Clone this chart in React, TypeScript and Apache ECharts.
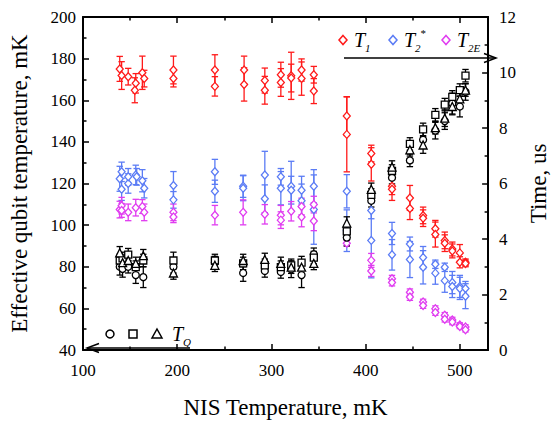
import React, { useEffect, useRef } from "react";
import * as echarts from "echarts";

const FONT = "Liberation Serif";

// T1 (right axis, μs)
const t1Temp = [139, 141, 148, 156, 155, 163, 165, 196, 196, 240, 240, 271, 271, 293, 293, 310, 310, 321, 321, 332, 332, 345, 345, 380, 380, 406, 406, 428, 428, 447, 447, 461, 461, 474, 474, 484, 484, 492, 492, 500, 500, 506, 506];
const t1Time = [10.13, 9.89, 9.85, 9.61, 9.36, 9.99, 9.78, 10.09, 9.78, 10.09, 9.5, 10.09, 9.57, 9.71, 9.36, 9.92, 9.64, 9.88, 9.8, 10.09, 9.78, 9.92, 9.33, 8.43, 7.77, 7.08, 6.69, 5.9, 5.79, 5.48, 5.1, 4.85, 4.75, 4.37, 4.16, 3.95, 3.85, 3.64, 3.57, 3.5, 3.16, 3.16, 3.12];
const t1Err = [0.45, 0.5, 0.3, 0.35, 0.45, 0.6, 0.3, 0.5, 0.3, 0.55, 0.35, 0.5, 0.6, 0.45, 0.5, 0.45, 0.5, 0.85, 0.5, 0.4, 0.6, 0.3, 0.45, 0.7, 1.35, 0.3, 0.6, 0.3, 0.4, 0.45, 0.4, 0.3, 0.3, 0.3, 0.45, 0.3, 0.3, 0.25, 0.25, 0.3, 0.2, 0.12, 0.12];

// T2* (right axis, μs)
const t2sTemp = [139, 141, 141, 148, 148, 156, 157, 163, 165, 196, 196, 240, 240, 270, 270, 293, 293, 310, 310, 321, 321, 332, 332, 345, 345, 380, 380, 406, 406, 428, 428, 447, 447, 461, 461, 474, 474, 484, 484, 492, 492, 500, 500, 506, 506];
const t2sTime = [6.17, 6.42, 5.79, 6.0, 6.24, 6.31, 6.24, 6.1, 5.83, 5.93, 5.41, 6.42, 5.72, 5.9, 5.83, 6.31, 5.45, 6.24, 5.83, 5.9, 5.76, 5.76, 5.38, 5.9, 5.06, 5.72, 4.3, 5.03, 3.95, 4.2, 3.43, 3.82, 3.26, 3.33, 2.98, 3.09, 2.77, 2.98, 2.5, 2.43, 2.29, 2.29, 2.22, 2.22, 1.94];
const t2sErr = [0.45, 0.35, 0.4, 0.35, 0.3, 0.35, 0.3, 0.4, 0.35, 0.5, 0.3, 0.45, 0.4, 0.4, 0.45, 0.85, 0.5, 0.3, 0.6, 0.9, 0.5, 0.5, 0.6, 0.6, 1.25, 0.6, 0.75, 0.3, 1.35, 0.4, 0.55, 0.25, 0.65, 0.4, 0.6, 0.15, 0.4, 0.15, 0.42, 0.4, 0.4, 0.4, 0.4, 0.25, 0.45];

// T2E (right axis, μs)
const t2eTemp = [139, 141, 141, 148, 156, 163, 165, 196, 196, 240, 270, 293, 310, 310, 321, 332, 332, 345, 345, 380, 406, 406, 428, 428, 447, 447, 461, 461, 474, 474, 484, 484, 492, 492, 500, 500, 506, 506];
const t2eTime = [5.06, 5.2, 5.03, 4.96, 5.13, 5.17, 4.96, 4.96, 4.79, 4.86, 4.96, 4.89, 4.86, 4.68, 5.0, 5.17, 4.79, 5.24, 4.65, 3.85, 3.23, 2.85, 2.57, 2.43, 2.08, 1.91, 1.73, 1.6, 1.49, 1.35, 1.25, 1.11, 1.08, 1.01, 0.9, 0.85, 0.83, 0.73];
const t2eErr = [0.3, 0.3, 0.25, 0.3, 0.3, 0.25, 0.3, 0.3, 0.2, 0.35, 0.45, 0.35, 0.35, 0.3, 0.35, 0.3, 0.35, 0.3, 0.35, 0.1, 0.25, 0.2, 0.12, 0.12, 0.12, 0.12, 0.1, 0.1, 0.1, 0.1, 0.1, 0.1, 0.1, 0.1, 0.08, 0.08, 0.08, 0.08];

// T_Q (left axis, mK)
const qTemp = [139, 142, 148, 156, 164, 196, 240, 270, 293, 310, 321, 332, 345, 380, 406, 428, 447, 461, 474, 484, 492, 500, 506];
const qCircle = [80, 79, 80, 76, 75, 80, 82, 77, 78, 77.5, 78.8, 76, 86, 94, 111.7, 122.8, 131.1, 141, 145.4, 150, 158.4, 157, 164];
const qCircleErr = [4, 4, 3, 4, 5, 3, 3, 4, 3, 3, 4, 6, 3, 4, 3, 3, 3, 4, 4, 4, 5, 5, 4];
const qSquare = [83, 84, 85.8, 79.8, 83, 83, 83, 81.6, 80.7, 79.8, 80.7, 82, 84.4, 97, 114.5, 126, 139, 146, 153, 157.9, 161.6, 164.9, 171.8];
const qSquareErr = [3, 3, 3, 3, 3, 4, 3, 3, 3, 3, 3, 3, 3, 3, 3, 3, 3, 3, 3, 3, 3, 3, 3];
const qTriangle = [86.7, 82, 83, 81.6, 85.3, 77, 80.7, 83, 83.5, 81.6, 79.8, 79.8, 81.6, 101, 117.2, 127.9, 136.2, 138.5, 146.8, 151.4, 157, 160.7, 164.9];
const qTriangleErr = [3, 3, 3, 3, 3, 3, 3, 3, 3, 3, 3, 3, 3, 3, 3, 3, 3, 4, 3, 4, 4, 4, 3];

const RED = "#ff1a1a";
const BLUE = "#5b7cf5";
const MAGENTA = "#e03cf0";
const BLACK = "#000000";

function zip(xs: number[], ys: number[], es: number[]) {
  return xs.map((x, i) => [x, ys[i], es[i]]);
}

function errorSeries(data: number[][], color: string, yAxisIndex: number) {
  return {
    type: "custom",
    xAxisIndex: 0,
    yAxisIndex,
    data,
    encode: { x: 0, y: 1 },
    silent: true,
    z: 2,
    renderItem: (params: any, api: any) => {
      const x = api.value(0);
      const y = api.value(1);
      const e = api.value(2);
      const hi = api.coord([x, y + e]);
      const lo = api.coord([x, y - e]);
      const w = 3.2;
      const st = { stroke: color, lineWidth: 1.3 };
      return {
        type: "group",
        children: [
          { type: "line", shape: { x1: hi[0], y1: hi[1], x2: lo[0], y2: lo[1] }, style: st },
          { type: "line", shape: { x1: hi[0] - w, y1: hi[1], x2: hi[0] + w, y2: hi[1] }, style: st },
          { type: "line", shape: { x1: lo[0] - w, y1: lo[1], x2: lo[0] + w, y2: lo[1] }, style: st },
        ],
      };
    },
  };
}

function markerSeries(name: string, data: number[][], symbol: string, color: string, size: number | number[], yAxisIndex: number) {
  return {
    name,
    type: "scatter",
    xAxisIndex: 0,
    yAxisIndex,
    data: data.map((d) => [d[0], d[1]]),
    symbol,
    symbolSize: size,
    z: 3,
    itemStyle: { color: "#ffffff", borderColor: color, borderWidth: 1.3, opacity: 1 },
  };
}

function axisCommon() {
  return {
    axisLine: { show: true, onZero: false, lineStyle: { color: BLACK, width: 2 } },
    axisTick: { show: true, inside: true, length: 6, lineStyle: { color: BLACK, width: 1.5 } },
    minorTick: { show: true, splitNumber: 2, length: 3.5, lineStyle: { color: BLACK, width: 1.5 } },
    splitLine: { show: false },
    minorSplitLine: { show: false },
  };
}

const subRich = (size: number) => ({
  t: { fontFamily: FONT, fontStyle: "italic", fontSize: size, lineHeight: 26, fill: BLACK, verticalAlign: "middle" },
  s: { fontFamily: FONT, fontStyle: "italic", fontSize: 11, fill: BLACK, verticalAlign: "bottom", lineHeight: 11 },
  p: { fontFamily: FONT, fontSize: 11, fill: BLACK, verticalAlign: "top", lineHeight: 11 },
});

function diamond(cx: number, cy: number, color: string) {
  return {
    type: "polygon",
    shape: { points: [[cx, cy - 4.5], [cx + 4, cy], [cx, cy + 4.5], [cx - 4, cy]] },
    style: { fill: "#fff", stroke: color, lineWidth: 1.5 },
  };
}

function arrow(x1: number, x2: number, y: number) {
  const dir = x2 > x1 ? 1 : -1;
  return [
    { type: "line", shape: { x1, y1: y, x2, y2: y }, style: { stroke: BLACK, lineWidth: 1.5 } },
    {
      type: "polyline",
      shape: { points: [[x2 - dir * 12, y - 4.5], [x2, y], [x2 - dir * 12, y + 4.5]] },
      style: { stroke: BLACK, lineWidth: 1.5, fill: "none" },
    },
  ];
}

export default function App() {
  const ref = useRef<HTMLDivElement>(null);
  useEffect(() => {
    if (!ref.current) return;
    const chart = echarts.init(ref.current, undefined, { renderer: "svg" });
    const t1 = zip(t1Temp, t1Time, t1Err);
    const t2s = zip(t2sTemp, t2sTime, t2sErr);
    const t2e = zip(t2eTemp, t2eTime, t2eErr);
    const qc = zip(qTemp, qCircle, qCircleErr);
    const qs = zip(qTemp, qSquare, qSquareErr);
    const qt = zip(qTemp, qTriangle, qTriangleErr);

    const labelStyle = { fontFamily: FONT, fontSize: 17, color: BLACK };
    const nameStyle = { fontFamily: FONT, fontSize: 23, color: BLACK };

    const option: any = {
      animation: false,
      backgroundColor: "#ffffff",
      textStyle: { fontFamily: FONT },
      grid: { left: 81, right: 56, top: 17, bottom: 61, containLabel: false },
      xAxis: [
        {
          type: "value",
          position: "bottom",
          min: 100,
          max: 530,
          interval: 100,
          ...axisCommon(),
          axisLabel: {
            ...labelStyle,
            margin: 12,
            formatter: (v: number) => (v % 100 === 0 ? String(v) : ""),
          },
          name: "NIS Temperature, mK",
          nameLocation: "middle",
          nameGap: 46,
          nameTextStyle: nameStyle,
        },
        {
          type: "value",
          position: "top",
          min: 100,
          max: 530,
          interval: 100,
          ...axisCommon(),
          axisLabel: { show: false },
        },
      ],
      yAxis: [
        {
          type: "value",
          position: "left",
          min: 40,
          max: 200,
          interval: 20,
          ...axisCommon(),
          axisLabel: { ...labelStyle, margin: 7 },
          name: "Effective qubit temperature, mK",
          nameLocation: "middle",
          nameRotate: 90,
          nameGap: 52,
          nameTextStyle: nameStyle,
        },
        {
          type: "value",
          position: "right",
          min: 0,
          max: 12,
          interval: 2,
          ...axisCommon(),
          axisLabel: { ...labelStyle, margin: 11 },
          name: "Time, us",
          nameLocation: "middle",
          nameRotate: 90,
          nameGap: 36,
          nameTextStyle: nameStyle,
        },
      ],
      series: [
        errorSeries(t1, RED, 1),
        errorSeries(t2s, BLUE, 1),
        errorSeries(t2e, MAGENTA, 1),
        markerSeries("T1", t1, "diamond", RED, [7, 8], 1),
        markerSeries("T2*", t2s, "diamond", BLUE, [7, 8], 1),
        markerSeries("T2E", t2e, "diamond", MAGENTA, [7, 8], 1),
        errorSeries(qc, BLACK, 0),
        errorSeries(qs, BLACK, 0),
        errorSeries(qt, BLACK, 0),
        markerSeries("TQ circle", qc, "circle", BLACK, 7, 0),
        markerSeries("TQ square", qs, "rect", BLACK, 7, 0),
        markerSeries("TQ triangle", qt, "triangle", BLACK, 8, 0),
      ],
      graphic: [
        diamond(343, 40, RED),
        { type: "text", x: 354, y: 27, style: { text: "{t|T}{s|1}", rich: subRich(20) } },
        diamond(393, 40, BLUE),
        { type: "text", x: 404, y: 27, style: { text: "{t|T}{s|2}{p|*}", rich: subRich(20) } },
        diamond(446, 40, MAGENTA),
        { type: "text", x: 457, y: 27, style: { text: "{t|T}{s|2E}", rich: subRich(20) } },
        ...arrow(344, 496, 58),
        { type: "circle", shape: { cx: 110, cy: 334, r: 4 }, style: { fill: "#fff", stroke: BLACK, lineWidth: 1.5 } },
        { type: "rect", shape: { x: 129, y: 330, width: 8, height: 8 }, style: { fill: "#fff", stroke: BLACK, lineWidth: 1.5 } },
        { type: "polygon", shape: { points: [[157, 329], [162, 338], [152, 338]] }, style: { fill: "#fff", stroke: BLACK, lineWidth: 1.5 } },
        { type: "text", x: 172, y: 321, style: { text: "{t|T}{s|Q}", rich: subRich(20) } },
        ...arrow(190, 87, 348),
      ],
    };
    chart.setOption(option);
    return () => chart.dispose();
  }, []);
  return <div ref={ref} style={{ position: "fixed", left: 0, top: 0, width: 558, height: 424 }} />;
}
